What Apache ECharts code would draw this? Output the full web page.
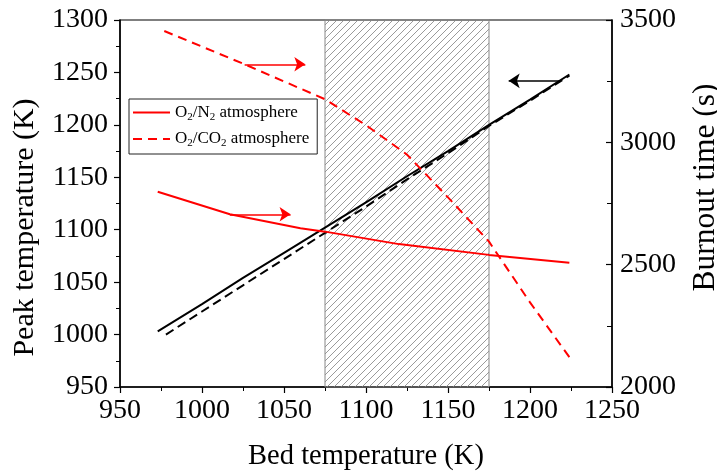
<!DOCTYPE html>
<html><head><meta charset="utf-8">
<script src="https://cdn.jsdelivr.net/npm/echarts@6/dist/echarts.min.js"></script>
<style>html,body{margin:0;padding:0;background:#fff}#c{width:717px;height:472px}</style>
</head><body><div id="c"></div>
<script>
// Peak temperature (left axis)
const peakX_N2 = [973, 1000, 1025, 1050, 1075, 1100, 1125, 1150, 1175, 1200, 1224];
const peak_N2 = [1003, 1029, 1054, 1078, 1102, 1126, 1151, 1175, 1200, 1224, 1248];
const peakX_CO2 = [978, 1000, 1025, 1050, 1075, 1100, 1125, 1150, 1175, 1200, 1224];
const peak_CO2 = [1000, 1022, 1047, 1072, 1097, 1122, 1148, 1173, 1199, 1223, 1247];
// Burnout time (right axis)
const burnX_N2 = [973, 1017, 1060, 1075, 1120, 1175, 1224];
const burn_N2 = [2798, 2706, 2649, 2635, 2584, 2540, 2508];
const burnX_CO2 = [977, 1026, 1075, 1100, 1125, 1150, 1175, 1200, 1224];
const burn_CO2 = [3455, 3319, 3176, 3070, 2950, 2775, 2594, 2346, 2122];
// Shaded bed temperature range
const bandRange = [1075, 1175];
// Annotation arrows: [x0, x1, y]
const arrowCO2 = [1026, 1063, 3319];
const arrowN2 = [1017, 1054, 2706];
const arrowPeak = [1218, 1187, 1242];

const pair = (xs, ys) => xs.map((x, i) => [x, ys[i]]);

const P = 7;
const hc = document.createElement('canvas');
hc.width = P; hc.height = P;
const g = hc.getContext('2d');
g.strokeStyle = '#808080'; g.lineWidth = 0.8;
g.beginPath();
g.moveTo(0, P); g.lineTo(P, 0);
g.moveTo(-1, 1); g.lineTo(1, -1);
g.moveTo(P - 1, P + 1); g.lineTo(P + 1, P - 1);
g.stroke();

const FONT = 'Liberation Serif';
const chart = echarts.init(document.getElementById('c'));
const arrowLine = (a, color) => ({
  silent: true, symbol: ['none', 'arrow'], symbolSize: 11,
  label: { show: false },
  lineStyle: { color: color, type: 'solid', width: 1.5 },
  data: [[{ coord: [a[0], a[2]] }, { coord: [a[1], a[2]] }]]
});
const plain = v => String(v);
chart.setOption({
  animation: false,
  backgroundColor: '#fff',
  grid: { left: 120, right: 105, top: 20, bottom: 85, show: true, borderColor: '#000', borderWidth: 1.2,
          containLabel: false, outerBoundsMode: 'none' },
  legend: {
    left: 129, top: 99, orient: 'vertical', itemWidth: 37, itemHeight: 14, itemGap: 8,
    padding: [5, 8, 5, 3], borderColor: '#222', borderWidth: 1, backgroundColor: '#fff',
    itemStyle: { opacity: 0 },
    data: ['O2/N2 atmosphere', 'O2/CO2 atmosphere'],
    formatter: function (n) {
      return n === 'O2/N2 atmosphere' ? 'O{s|2}/N{s|2} atmosphere' : 'O{s|2}/CO{s|2} atmosphere';
    },
    textStyle: {
      fontFamily: FONT, fontSize: 17, color: '#000',
      rich: { s: { fontFamily: FONT, fontSize: 11, color: '#000', padding: [9, 0, 0, 0] } }
    }
  },
  xAxis: {
    type: 'value', min: 950, max: 1250, interval: 50,
    name: 'Bed temperature (K)', nameLocation: 'middle', nameGap: 55,
    nameTextStyle: { fontFamily: FONT, fontSize: 28.5, color: '#000' },
    axisLine: { lineStyle: { color: '#000', width: 1.5 } },
    axisTick: { inside: false, length: 6, lineStyle: { color: '#000', width: 1.2 } },
    minorTick: { show: true, splitNumber: 2, length: 4, lineStyle: { color: '#000' } },
    axisLabel: { fontFamily: FONT, fontSize: 28, color: '#000', margin: 10, formatter: plain },
    splitLine: { show: false }
  },
  yAxis: [{
    type: 'value', min: 950, max: 1300, interval: 50,
    name: 'Peak temperature (K)', nameLocation: 'middle', nameGap: 80, nameRotate: 90,
    nameTextStyle: { fontFamily: FONT, fontSize: 30, color: '#000', padding: [0, 48, 0, 0] },
    axisLine: { show: true, lineStyle: { color: '#000', width: 1.5 } },
    axisTick: { show: true, inside: false, length: 6, lineStyle: { color: '#000', width: 1.2 } },
    minorTick: { show: true, splitNumber: 2, length: 4, lineStyle: { color: '#000' } },
    axisLabel: { fontFamily: FONT, fontSize: 28, color: '#000', margin: 12, formatter: plain },
    splitLine: { show: false }
  }, {
    type: 'value', min: 2000, max: 3500, interval: 500, position: 'right',
    name: 'Burnout time (s)', nameLocation: 'middle', nameGap: 78, nameRotate: 90,
    nameTextStyle: { fontFamily: FONT, fontSize: 31.5, color: '#000', padding: [0, 0, 0, 32] },
    axisLine: { show: true, lineStyle: { color: '#000', width: 1.5 } },
    axisTick: { show: true, inside: true, length: 6, lineStyle: { color: '#000', width: 1.2 } },
    minorTick: { show: true, splitNumber: 2, length: 5, lineStyle: { color: '#000' } },
    axisLabel: { fontFamily: FONT, fontSize: 28, color: '#000', margin: 8, formatter: plain },
    splitLine: { show: false }
  }],
  series: [{
    name: 'band', type: 'line', data: [], yAxisIndex: 0, z: 1,
    markArea: {
      silent: true,
      itemStyle: { color: { image: hc, repeat: 'repeat' }, borderColor: '#888', borderWidth: 1 },
      data: [[{ xAxis: bandRange[0], yAxis: 950 }, { xAxis: bandRange[1], yAxis: 1300 }]]
    }
  }, {
    name: 'peakN2', type: 'line', yAxisIndex: 0, z: 3, symbol: 'none',
    lineStyle: { color: '#000', width: 2 }, data: pair(peakX_N2, peak_N2),
    markLine: arrowLine(arrowPeak, '#000')
  }, {
    name: 'peakCO2', type: 'line', yAxisIndex: 0, z: 3, symbol: 'none',
    lineStyle: { color: '#000', width: 2, type: [9, 5] }, data: pair(peakX_CO2, peak_CO2)
  }, {
    name: 'O2/N2 atmosphere', type: 'line', yAxisIndex: 1, z: 3, symbol: 'none',
    itemStyle: { color: '#ff0000' },
    lineStyle: { color: '#ff0000', width: 2 }, data: pair(burnX_N2, burn_N2),
    markLine: arrowLine(arrowN2, '#ff0000')
  }, {
    name: 'O2/CO2 atmosphere', type: 'line', yAxisIndex: 1, z: 3, symbol: 'none',
    itemStyle: { color: '#ff0000' },
    lineStyle: { color: '#ff0000', width: 2, type: [9, 6] }, data: pair(burnX_CO2, burn_CO2),
    markLine: arrowLine(arrowCO2, '#ff0000')
  }]
});
</script></body></html>
